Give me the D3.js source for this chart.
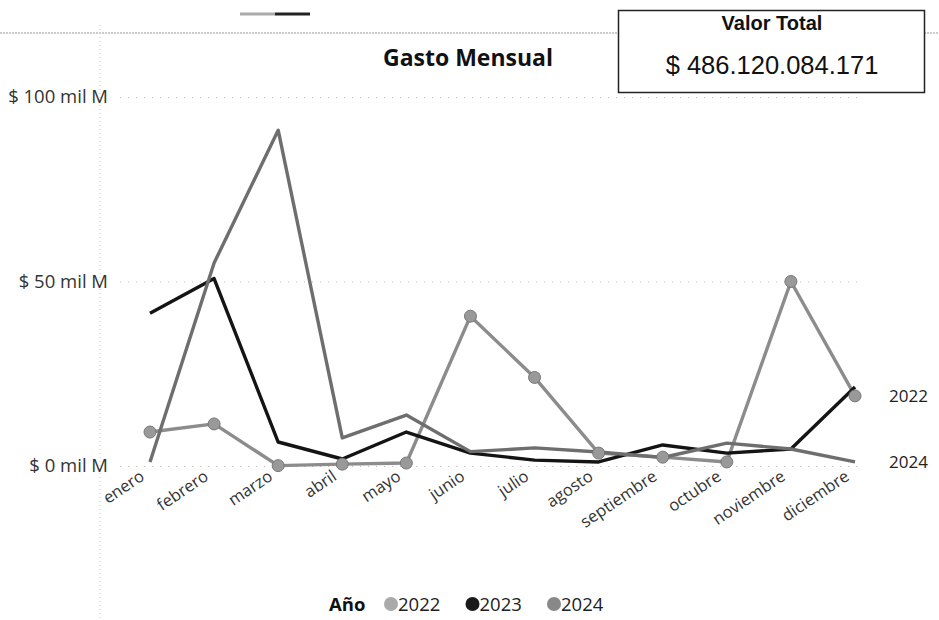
<!DOCTYPE html>
<html><head><meta charset="utf-8">
<script src="https://cdn.jsdelivr.net/npm/d3@7"></script>
<style>body{margin:0;background:#fff;}svg{display:block;}</style>
</head><body>
<svg id="c" width="939" height="620"></svg>
<script>
const months = ["enero","febrero","marzo","abril","mayo","junio","julio","agosto","septiembre","octubre","noviembre","diciembre"];
const years = ["2022","2023","2024"];
// values in "mil M" (thousands of millions)
const v2022 = [9.2, 11.4, 0.1, 0.5, 0.8, 40.6, 24, 3.5, 2.4, 1.1, 50, 19];
const v2023 = [41.4, 50.8, 6.5, 1.9, 9.2, 3.5, 1.6, 1.1, 5.7, 3.5, 4.6, 21.4];
const v2024 = [1.1, 55, 91, 7.6, 13.8, 3.9, 4.9, 3.8, 2.3, 6.2, 4.6, 1.1];
const yTicks = [0, 50, 100];
const title = "Gasto Mensual";
const cardTitle = "Valor Total";
const cardValue = "$ 486.120.084.171";

const svg = d3.select("#c");
const font = "'Open Sans', 'Noto Sans', sans-serif";
const colors = {"2022":"#8c8c8c","2023":"#141414","2024":"#6e6e6e"};
const series = [
  {year:"2022", values:v2022, markers:true},
  {year:"2023", values:v2023, markers:false},
  {year:"2024", values:v2024, markers:false}
];

const x = d3.scalePoint().domain(months).range([150, 855]);
const y = d3.scaleLinear().domain([0, 100]).range([466, 97]);

// frame decorations
svg.append("line").attr("x1",0).attr("x2",939).attr("y1",33).attr("y2",33)
  .attr("stroke","#999").attr("stroke-dasharray","2,1").attr("stroke-width",1);
svg.append("line").attr("x1",100).attr("x2",100).attr("y1",25).attr("y2",620)
  .attr("stroke","#ccc").attr("stroke-dasharray","1,3").attr("stroke-width",1);
svg.append("line").attr("x1",240).attr("x2",275).attr("y1",14).attr("y2",14).attr("stroke","#aaa").attr("stroke-width",3);
svg.append("line").attr("x1",275).attr("x2",310).attr("y1",14).attr("y2",14).attr("stroke","#222").attr("stroke-width",3);

// title
svg.append("text").attr("x",468).attr("y",66).attr("text-anchor","middle")
  .attr("font-family",font).attr("font-weight","bold").attr("font-size",23).attr("fill","#111").text(title);

// grid
const yAxis = d3.axisLeft(y).tickValues(yTicks).tickSize(-(860-120)).tickFormat(d => "$ " + d + " mil M");
const gy = svg.append("g").attr("transform","translate(120,0)").call(yAxis);
gy.select(".domain").remove();
gy.selectAll(".tick line").attr("stroke","#bbb").attr("stroke-dasharray","1,7");
gy.selectAll(".tick text").attr("x",-12).attr("font-family",font).attr("font-size",18.5).attr("fill","#333");

// x axis
const xAxis = d3.axisBottom(x).tickSize(0);
const gx = svg.append("g").attr("transform","translate(0,466)").call(xAxis);
gx.select(".domain").remove();
gx.selectAll(".tick text")
  .attr("font-family",font).attr("font-size",16.5).attr("fill","#333")
  .attr("text-anchor","end").attr("dy",0).attr("y",0)
  .attr("transform","translate(-5,13) rotate(-34)");

// lines
const line = d3.line().x((d,i)=>x(months[i])).y(d=>y(d));
series.forEach(s=>{
  svg.append("path").datum(s.values).attr("d",line).attr("fill","none")
    .attr("stroke",colors[s.year]).attr("stroke-width",3.4).attr("stroke-linejoin","round");
});
// markers
series.filter(s=>s.markers).forEach(s=>{
  svg.selectAll(null).data(s.values).enter().append("circle")
    .attr("cx",(d,i)=>x(months[i])).attr("cy",d=>y(d)).attr("r",6)
    .attr("fill","#999").attr("stroke","#777").attr("stroke-width",1);
});

// end labels
[["2022", v2022], ["2024", v2024]].forEach(([yr, vals])=>{
  svg.append("text").attr("x",889).attr("y",y(vals[11])).attr("dy","0.35em")
    .attr("font-family",font).attr("font-size",17).attr("fill","#222").text(yr);
});

// legend
const lg = svg.append("g").attr("font-family",font);
lg.append("text").attr("x",329).attr("y",611).attr("font-weight","bold").attr("font-size",18.5).attr("fill","#111").text("Año");
const legFill = {"2022":"#aaa","2023":"#1a1a1a","2024":"#888"};
years.forEach((yr,i)=>{
  const cx = 391 + i*81.5;
  lg.append("circle").attr("cx",cx).attr("cy",604).attr("r",7).attr("fill",legFill[yr]);
  lg.append("text").attr("x",cx+7).attr("y",611).attr("font-size",18.5).attr("fill","#222").text(yr);
});

// card
const card = svg.append("g");
card.append("rect").attr("x",618.5).attr("y",10.5).attr("width",306).attr("height",82)
  .attr("fill","#fff").attr("stroke","#222").attr("stroke-width",1.5);
card.append("text").attr("x",772).attr("y",30).attr("text-anchor","middle")
  .attr("font-family","'Liberation Sans', Arial, sans-serif").attr("font-weight","bold").attr("font-size",20).attr("fill","#111").text(cardTitle);
card.append("text").attr("x",772).attr("y",74).attr("text-anchor","middle")
  .attr("font-family","'Liberation Sans', Arial, sans-serif").attr("font-size",25.5).attr("fill","#111").text(cardValue);
</script>
</body></html>
